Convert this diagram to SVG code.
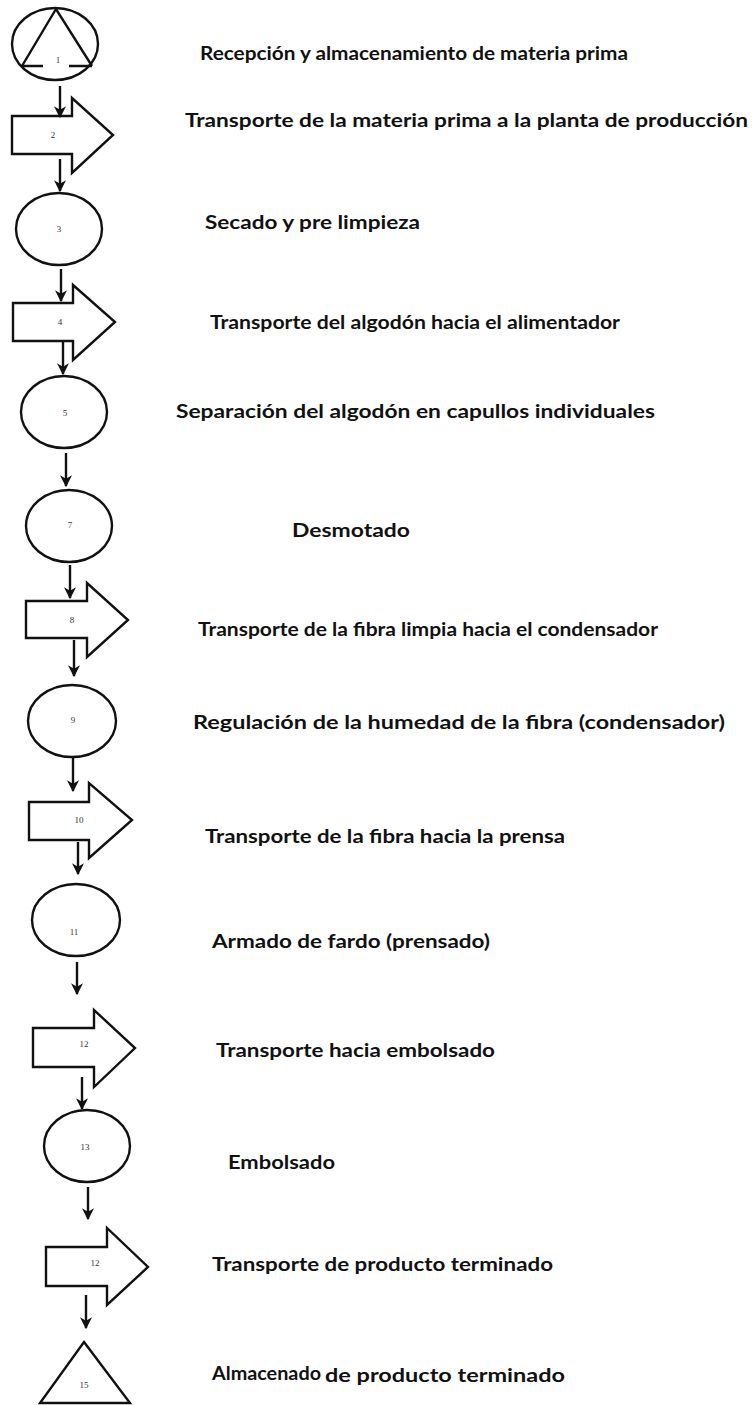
<svg xmlns="http://www.w3.org/2000/svg" width="752" height="1405" viewBox="0 0 752 1405">
<defs>
<style>
.shape{fill:#fff;stroke:#111;stroke-width:2.4;stroke-linejoin:miter}
.ln{fill:none;stroke:#111;stroke-width:2.4}
.conn{fill:none;stroke:#111;stroke-width:2.4;marker-end:url(#ah)}
.num{font-family:"Liberation Serif",serif;font-size:9px;fill:#333;text-anchor:middle}
.lbl{font-family:Lato,"Open Sans","Liberation Sans",sans-serif;font-weight:bold;font-size:18px;fill:#111}
</style>
<marker id="ah" viewBox="0 0 10 10" refX="9" refY="5" markerWidth="5" markerHeight="5" markerUnits="strokeWidth" orient="auto">
<path d="M0,0 L10,5 L0,10 L3,5 z" fill="#111"/>
</marker>
</defs>
<rect width="752" height="1405" fill="#fff"/>

<g id="n1">
<ellipse class="shape" cx="55" cy="44" rx="43" ry="36"/>
<path class="ln" d="M22,66 L56,9 L92,66"/>
<path class="ln" d="M22,66 H43 M69,66 H92"/>
<text class="num" x="58" y="63">1</text>
<text class="lbl" x="200" y="60" textLength="428" lengthAdjust="spacingAndGlyphs">Recepción  y almacenamiento de materia prima</text>
</g>
<g id="n2">
<polygon class="shape" points="12,116 72,116 72,98 113,135 72,173 72,154 12,154"/>
<text class="num" x="53" y="138">2</text>
<text class="lbl" x="185" y="127" textLength="563" lengthAdjust="spacingAndGlyphs">Transporte de la materia prima a la planta de producción</text>
</g>
<g id="n3">
<ellipse class="shape" cx="59" cy="229" rx="43" ry="36"/>
<text class="num" x="59" y="232">3</text>
<text class="lbl" x="205" y="229" textLength="215" lengthAdjust="spacingAndGlyphs">Secado y pre limpieza</text>
</g>
<g id="n4">
<polygon class="shape" points="13,303 73,303 73,285 115,322 73,360 73,341 13,341"/>
<text class="num" x="60" y="325">4</text>
<text class="lbl" x="210" y="329" textLength="410" lengthAdjust="spacingAndGlyphs">Transporte del algodón hacia el alimentador</text>
</g>
<g id="n5">
<ellipse class="shape" cx="64" cy="412" rx="43" ry="36"/>
<text class="num" x="65" y="416">5</text>
<text class="lbl" x="176" y="418" textLength="479" lengthAdjust="spacingAndGlyphs">Separación del algodón en capullos individuales</text>
</g>
<g id="n7">
<ellipse class="shape" cx="69" cy="526" rx="43" ry="36"/>
<text class="num" x="70" y="528">7</text>
<text class="lbl" x="292" y="537" textLength="118" lengthAdjust="spacingAndGlyphs">Desmotado</text>
</g>
<g id="n8">
<polygon class="shape" points="26,601 87,601 87,583 128,620 87,657 87,638 26,638"/>
<text class="num" x="72" y="623">8</text>
<text class="lbl" x="198" y="636" textLength="460" lengthAdjust="spacingAndGlyphs">Transporte de la fibra limpia hacia el condensador</text>
</g>
<g id="n9">
<ellipse class="shape" cx="72" cy="721" rx="44" ry="36"/>
<text class="num" x="73" y="723">9</text>
<text class="lbl" x="193" y="729" textLength="532" lengthAdjust="spacingAndGlyphs">Regulación de la humedad de la fibra (condensador)</text>
</g>
<g id="n10">
<polygon class="shape" points="29,802 89,802 89,783 132,820 89,858 89,840 29,840"/>
<text class="num" x="79" y="823">10</text>
<text class="lbl" x="205" y="843" textLength="360" lengthAdjust="spacingAndGlyphs">Transporte de la fibra hacia la prensa</text>
</g>
<g id="n11">
<ellipse class="shape" cx="76" cy="920" rx="44" ry="36"/>
<text class="num" x="74" y="935">11</text>
<text class="lbl" x="212" y="948" textLength="278" lengthAdjust="spacingAndGlyphs">Armado de fardo (prensado)</text>
</g>
<g id="n12">
<polygon class="shape" points="33,1028 94,1028 94,1010 135,1048 94,1087 94,1067 33,1067"/>
<text class="num" x="84" y="1047">12</text>
<text class="lbl" x="216" y="1057" textLength="279" lengthAdjust="spacingAndGlyphs">Transporte hacia embolsado</text>
</g>
<g id="n13">
<ellipse class="shape" cx="87" cy="1146" rx="43" ry="36"/>
<text class="num" x="85" y="1150">13</text>
<text class="lbl" x="228" y="1169" textLength="107" lengthAdjust="spacingAndGlyphs">Embolsado</text>
</g>
<g id="n14">
<polygon class="shape" points="46,1247 107,1247 107,1228 148,1267 107,1305 107,1286 46,1286"/>
<text class="num" x="95" y="1266">12</text>
<text class="lbl" x="212" y="1271" textLength="341" lengthAdjust="spacingAndGlyphs">Transporte de producto terminado</text>
</g>
<g id="n15">
<polygon class="shape" points="84,1342 130,1403 40,1403"/>
<text class="num" x="84" y="1388">15</text>
<text class="lbl" x="212" y="1380"><tspan textLength="109" lengthAdjust="spacingAndGlyphs">Almacenado</tspan><tspan x="325" dy="2" textLength="240" lengthAdjust="spacingAndGlyphs">de producto terminado</tspan></text>
</g>

<g id="connectors">
<line class="conn" x1="60" y1="86" x2="60" y2="117"/>
<line class="conn" x1="60" y1="159" x2="60" y2="191"/>
<line class="conn" x1="61" y1="269" x2="61" y2="301"/>
<line class="conn" x1="63" y1="341" x2="63" y2="374"/>
<line class="conn" x1="66" y1="453" x2="66" y2="486"/>
<line class="conn" x1="70" y1="565" x2="70" y2="598"/>
<line class="conn" x1="74" y1="640" x2="74" y2="676"/>
<line class="conn" x1="73" y1="758" x2="73" y2="791"/>
<line class="conn" x1="78" y1="842" x2="78" y2="874"/>
<line class="conn" x1="77" y1="962" x2="77" y2="994"/>
<line class="conn" x1="82" y1="1077" x2="82" y2="1109"/>
<line class="conn" x1="88" y1="1187" x2="88" y2="1219"/>
<line class="conn" x1="86" y1="1295" x2="86" y2="1328"/>
</g>
</svg>
